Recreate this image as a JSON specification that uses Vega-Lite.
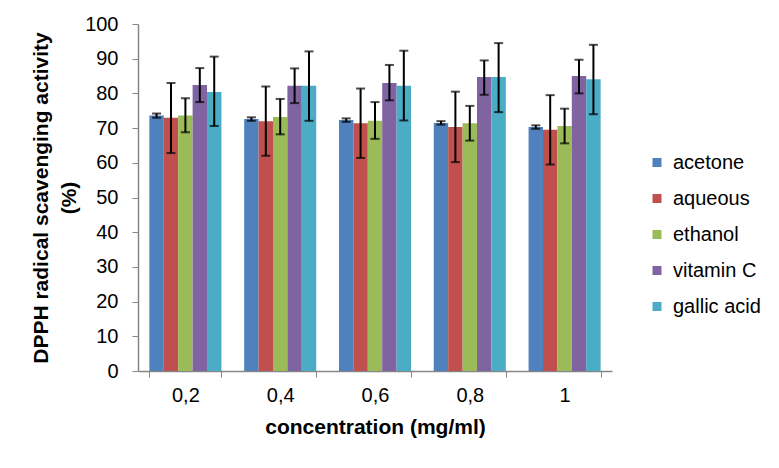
{
  "$schema": "https://vega.github.io/schema/vega-lite/v6.json",
  "width": 474,
  "height": 347,
  "autosize": {"type": "none"},
  "padding": {"left": 138, "top": 24, "right": 167, "bottom": 97},
  "background": "white",
  "config": {
    "view": {"stroke": null},
    "font": "Liberation Sans",
    "axisY": {
      "titleFont": "Liberation Sans", "titleFontSize": 21, "titleFontWeight": "bold", "titleColor": "black",
      "titleLineHeight": 28, "titlePadding": 5,
      "labelOverlap": false,
      "labelFontSize": 20, "labelColor": "black", "labelPadding": 14,
      "tickSize": 6, "tickColor": "#868686",
      "domainColor": "#868686", "domainWidth": 1.5, "grid": false
    }
  },
  "data": {"values": [
    {"conc": "0,2", "extract": "acetone", "value": 73.6, "lo": 73.0, "hi": 74.2},
    {"conc": "0,2", "extract": "aqueous", "value": 73.0, "lo": 62.8, "hi": 83.0},
    {"conc": "0,2", "extract": "ethanol", "value": 73.6, "lo": 68.8, "hi": 78.6},
    {"conc": "0,2", "extract": "vitamin C", "value": 82.4, "lo": 77.5, "hi": 87.3},
    {"conc": "0,2", "extract": "gallic acid", "value": 80.4, "lo": 70.6, "hi": 90.6},
    {"conc": "0,4", "extract": "acetone", "value": 72.6, "lo": 72.1, "hi": 73.1},
    {"conc": "0,4", "extract": "aqueous", "value": 72.0, "lo": 62.0, "hi": 82.0},
    {"conc": "0,4", "extract": "ethanol", "value": 73.2, "lo": 68.2, "hi": 78.4},
    {"conc": "0,4", "extract": "vitamin C", "value": 82.2, "lo": 77.2, "hi": 87.2},
    {"conc": "0,4", "extract": "gallic acid", "value": 82.2, "lo": 72.1, "hi": 92.1},
    {"conc": "0,6", "extract": "acetone", "value": 72.3, "lo": 71.8, "hi": 72.8},
    {"conc": "0,6", "extract": "aqueous", "value": 71.4, "lo": 61.4, "hi": 81.4},
    {"conc": "0,6", "extract": "ethanol", "value": 72.1, "lo": 66.9, "hi": 77.5},
    {"conc": "0,6", "extract": "vitamin C", "value": 83.0, "lo": 78.0, "hi": 88.2},
    {"conc": "0,6", "extract": "gallic acid", "value": 82.2, "lo": 72.2, "hi": 92.3},
    {"conc": "0,8", "extract": "acetone", "value": 71.5, "lo": 71.0, "hi": 72.0},
    {"conc": "0,8", "extract": "aqueous", "value": 70.3, "lo": 60.2, "hi": 80.5},
    {"conc": "0,8", "extract": "ethanol", "value": 71.4, "lo": 66.4, "hi": 76.4},
    {"conc": "0,8", "extract": "vitamin C", "value": 84.7, "lo": 79.6, "hi": 89.5},
    {"conc": "0,8", "extract": "gallic acid", "value": 84.7, "lo": 74.6, "hi": 94.5},
    {"conc": "1", "extract": "acetone", "value": 70.3, "lo": 69.8, "hi": 70.8},
    {"conc": "1", "extract": "aqueous", "value": 69.5, "lo": 59.5, "hi": 79.5},
    {"conc": "1", "extract": "ethanol", "value": 70.6, "lo": 65.6, "hi": 75.6},
    {"conc": "1", "extract": "vitamin C", "value": 85.0, "lo": 80.0, "hi": 89.7},
    {"conc": "1", "extract": "gallic acid", "value": 84.1, "lo": 74.0, "hi": 94.0}
  ]},
  "encoding": {
    "x": {
      "field": "conc", "type": "nominal",
      "sort": ["0,2", "0,4", "0,6", "0,8", "1"],
      "scale": {"paddingInner": 0.24, "paddingOuter": 0.12},
      "axis": {
        "title": "concentration (mg/ml)",
        "titleFont": "Liberation Sans", "titleFontSize": 21, "titleFontWeight": "bold", "titleColor": "black",
        "titlePadding": 11,
        "labelFontSize": 20, "labelColor": "black", "labelAngle": 0, "labelPadding": 8,
        "tickBand": "extent", "tickSize": 6, "tickColor": "#868686",
        "domainColor": "#868686", "domainWidth": 1.5
      }
    },
    "xOffset": {"field": "extract", "type": "nominal", "sort": ["acetone", "aqueous", "ethanol", "vitamin C", "gallic acid"]}
  },
  "layer": [
    {
      "mark": {"type": "bar"},
      "encoding": {
        "y": {
          "field": "value", "type": "quantitative",
          "scale": {"domain": [0, 100], "nice": false},
          "axis": {"title": ["DPPH radical scavenging activity", "(%)"], "values": [0, 10, 20, 30, 40, 50, 60, 70, 80, 90, 100]}
        },
        "color": {
          "field": "extract", "type": "nominal",
          "sort": ["acetone", "aqueous", "ethanol", "vitamin C", "gallic acid"],
          "scale": {
            "domain": ["acetone", "aqueous", "ethanol", "vitamin C", "gallic acid"],
            "range": ["#4F81BD", "#C0504D", "#9BBB59", "#8064A2", "#4BACC6"]
          },
          "legend": {
            "title": null, "orient": "none", "legendX": 509, "legendY": 128.5,
            "symbolType": "square", "symbolSize": 81, "symbolStrokeWidth": 0,
            "labelFontSize": 20, "labelColor": "black", "labelOffset": 6,
            "rowPadding": 16
          }
        }
      }
    },
    {
      "mark": {"type": "rule", "color": "black", "strokeWidth": 2},
      "encoding": {
        "y": {"field": "lo", "type": "quantitative", "axis": {"title": ["DPPH radical scavenging activity", "(%)"], "values": [0, 10, 20, 30, 40, 50, 60, 70, 80, 90, 100]}},
        "y2": {"field": "hi"}
      }
    },
    {
      "mark": {"type": "tick", "color": "black", "thickness": 2, "size": 9},
      "encoding": {"y": {"field": "lo", "type": "quantitative", "axis": {"title": ["DPPH radical scavenging activity", "(%)"], "values": [0, 10, 20, 30, 40, 50, 60, 70, 80, 90, 100]}}}
    },
    {
      "mark": {"type": "tick", "color": "black", "thickness": 2, "size": 9},
      "encoding": {"y": {"field": "hi", "type": "quantitative", "axis": {"title": ["DPPH radical scavenging activity", "(%)"], "values": [0, 10, 20, 30, 40, 50, 60, 70, 80, 90, 100]}}}
    }
  ]
}
